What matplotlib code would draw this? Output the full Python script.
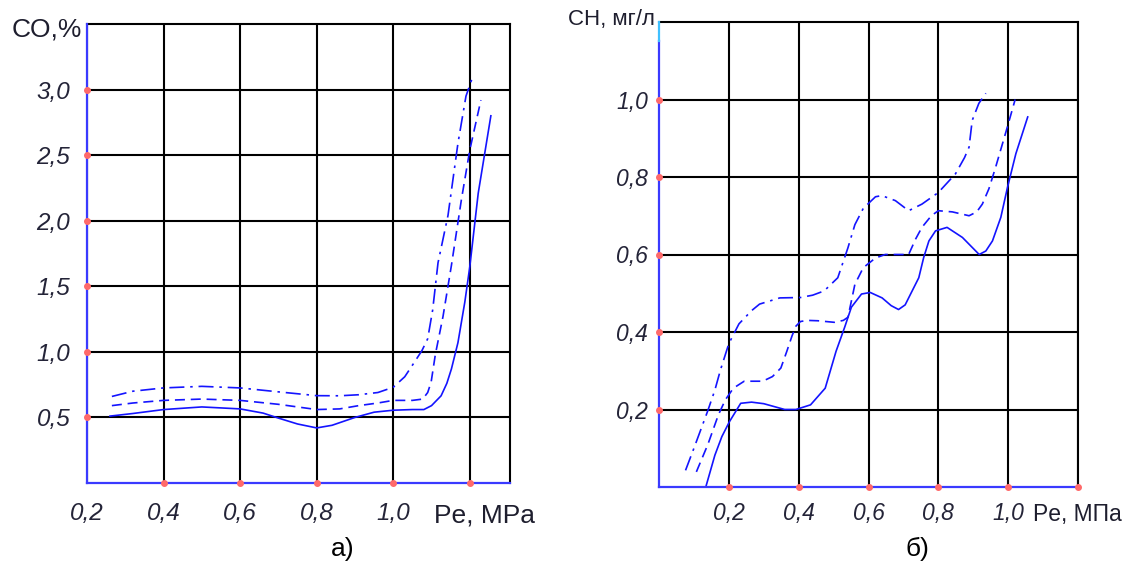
import matplotlib
matplotlib.use("Agg")
import matplotlib.pyplot as plt

plt.rcParams['font.family'] = ['Liberation Sans', 'DejaVu Sans']

# ---------------- data: panel a) CO, % ----------------
co_xticks = [0.2, 0.4, 0.6, 0.8, 1.0, 1.2]
co_xticklabels = ['0,2', '0,4', '0,6', '0,8', '1,0', '']
co_yticks = [0.5, 1.0, 1.5, 2.0, 2.5, 3.0]
co_yticklabels = ['0,5', '1,0', '1,5', '2,0', '2,5', '3,0']

co_solid_x = [0.26, 0.32, 0.40, 0.50, 0.60, 0.66, 0.70, 0.75, 0.80, 0.84, 0.90, 0.95,
              1.00, 1.05, 1.08, 1.10, 1.125, 1.14, 1.152, 1.169, 1.187, 1.20, 1.222, 1.255]
co_solid_y = [0.51, 0.53, 0.56, 0.58, 0.565, 0.533, 0.495, 0.45, 0.42, 0.44, 0.50, 0.54,
              0.555, 0.56, 0.56, 0.59, 0.665, 0.76, 0.87, 1.07, 1.38, 1.65, 2.21, 2.80]

co_dash_x = [0.265, 0.32, 0.40, 0.50, 0.60, 0.70, 0.80, 0.86, 0.91, 0.96, 1.00, 1.05,
             1.077, 1.09, 1.099, 1.11, 1.13, 1.152, 1.178, 1.20, 1.229]
co_dash_y = [0.59, 0.61, 0.63, 0.64, 0.63, 0.60, 0.56, 0.565, 0.59, 0.61, 0.63, 0.63,
             0.64, 0.69, 0.77, 0.98, 1.27, 1.66, 2.16, 2.54, 2.92]

co_dashdot_x = [0.265, 0.32, 0.40, 0.50, 0.60, 0.70, 0.80, 0.86, 0.91, 0.96, 1.00, 1.03,
                1.055, 1.075, 1.09, 1.103, 1.117, 1.143, 1.169, 1.19, 1.209]
co_dashdot_y = [0.66, 0.70, 0.725, 0.737, 0.725, 0.695, 0.666, 0.665, 0.673, 0.69, 0.73, 0.81,
                0.92, 1.01, 1.10, 1.32, 1.68, 2.04, 2.59, 2.95, 3.11]

# ---------------- data: panel б) CH, мг/л ----------------
ch_xticks = [0.2, 0.4, 0.6, 0.8, 1.0, 1.2]
ch_xticklabels = ['0,2', '0,4', '0,6', '0,8', '1,0', '']
ch_yticks = [0.2, 0.4, 0.6, 0.8, 1.0]
ch_yticklabels = ['0,2', '0,4', '0,6', '0,8', '1,0']

ch_solid_x = [0.134, 0.16, 0.18, 0.202, 0.234, 0.265, 0.30, 0.328, 0.36, 0.392, 0.434, 0.476,
              0.507, 0.532, 0.551, 0.58, 0.605, 0.639, 0.665, 0.686, 0.705, 0.72, 0.744, 0.758,
              0.773, 0.792, 0.825, 0.869, 0.917, 0.936, 0.955, 0.979, 0.998, 1.022, 1.056]
ch_solid_y = [0.0, 0.082, 0.13, 0.169, 0.216, 0.219, 0.215, 0.208, 0.20, 0.20, 0.212, 0.255,
              0.35, 0.413, 0.464, 0.498, 0.502, 0.488, 0.468, 0.458, 0.47, 0.497, 0.54, 0.592,
              0.635, 0.661, 0.67, 0.644, 0.60, 0.609, 0.635, 0.696, 0.773, 0.86, 0.955]

ch_dash_x = [0.107, 0.14, 0.17, 0.19, 0.213, 0.244, 0.297, 0.325, 0.349, 0.366, 0.381, 0.392,
             0.405, 0.424, 0.455, 0.502, 0.528, 0.541, 0.551, 0.561, 0.585, 0.62, 0.648, 0.68,
             0.715, 0.735, 0.753, 0.78, 0.80, 0.84, 0.888, 0.91, 0.926, 0.945, 0.964, 0.998, 1.02]
ch_dash_y = [0.039, 0.11, 0.186, 0.225, 0.255, 0.273, 0.273, 0.285, 0.307, 0.35, 0.39, 0.415,
             0.427, 0.43, 0.429, 0.425, 0.43, 0.438, 0.48, 0.523, 0.566, 0.591, 0.60, 0.60,
             0.60, 0.64, 0.67, 0.70, 0.713, 0.71, 0.70, 0.71, 0.73, 0.77, 0.825, 0.93, 1.0]

ch_dashdot_x = [0.076, 0.10, 0.139, 0.16, 0.176, 0.2, 0.229, 0.265, 0.288, 0.346, 0.405, 0.44,
                0.473, 0.512, 0.541, 0.561, 0.585, 0.62, 0.638, 0.677, 0.715, 0.753, 0.8, 0.849,
                0.875, 0.888, 0.897, 0.916, 0.936]
ch_dashdot_y = [0.043, 0.10, 0.195, 0.25, 0.302, 0.37, 0.421, 0.455, 0.472, 0.488, 0.489, 0.495,
                0.506, 0.54, 0.617, 0.677, 0.719, 0.749, 0.752, 0.739, 0.713, 0.73, 0.76, 0.808,
                0.85, 0.877, 0.946, 0.99, 1.016]

# ---------------- styles ----------------
CURVE = '#1414ff'
SPINE = '#3a3aff'
DOT = '#ff6a6a'
TXT = '#242438'
TICKFONT = ['Liberation Sans Narrow', 'Liberation Sans', 'DejaVu Sans']
DASH = (0, (6, 3.5))
DASHDOT = (0, (9, 3.5, 1.5, 3.5))

fig = plt.figure(figsize=(11.34, 5.67), dpi=100)
ax1 = fig.add_axes([87 / 1134, 1 - 483 / 567, (510 - 87) / 1134, (483 - 24) / 567])
ax2 = fig.add_axes([659 / 1134, 1 - 487 / 567, (1078 - 659) / 1134, (487 - 22) / 567])


def style_axes(ax, xlim, ylim, xticks, xlabels, yticks, ylabels, fs, xpad, ypad):
    ax.set_xlim(*xlim)
    ax.set_ylim(*ylim)
    ax.set_xticks(xticks)
    ax.set_xticklabels(xlabels, fontsize=fs, style='italic', color=TXT, family=TICKFONT)
    ax.set_yticks(yticks)
    ax.set_yticklabels(ylabels, fontsize=fs, style='italic', color=TXT, family=TICKFONT)
    ax.tick_params(axis='x', length=0, pad=xpad)
    ax.tick_params(axis='y', length=0, pad=ypad)
    ax.grid(True, color='black', linewidth=1.5)
    ax.set_axisbelow(True)
    for s in ('top', 'right'):
        ax.spines[s].set_color('black')
        ax.spines[s].set_linewidth(1.5)
    ax.spines['bottom'].set_color(SPINE)
    ax.spines['bottom'].set_linewidth(1.6)
    ax.spines['left'].set_color(SPINE)
    ax.spines['left'].set_linewidth(1.6)
    ax.spines['bottom'].set_zorder(4)
    ax.spines['left'].set_zorder(4)


style_axes(ax1, (0.2, 1.305), (0, 3.5), co_xticks, co_xticklabels,
           co_yticks, co_yticklabels, 17.5, 14, 12)
style_axes(ax2, (0, 1.2), (0, 1.2), ch_xticks, ch_xticklabels,
           ch_yticks, ch_yticklabels, 16.5, 11, 8)

# right panel: top part of left spine is light blue
ax2.spines['left'].set_visible(False)
ax2.plot([0, 0], [0, 1.15], color=SPINE, lw=1.6, clip_on=False, zorder=4)
ax2.plot([0, 0], [1.15, 1.2], color='#40c0ff', lw=1.6, clip_on=False, zorder=4)

# curves
ax1.plot(co_solid_x, co_solid_y, color=CURVE, lw=1.2, solid_joinstyle='round', zorder=3)
ax1.plot(co_dash_x, co_dash_y, color=CURVE, lw=1.2, linestyle=DASH, zorder=3)
ax1.plot(co_dashdot_x, co_dashdot_y, color=CURVE, lw=1.2, linestyle=DASHDOT, zorder=3)

ax2.plot(ch_solid_x, ch_solid_y, color=CURVE, lw=1.2, solid_joinstyle='round', zorder=3)
ax2.plot(ch_dash_x, ch_dash_y, color=CURVE, lw=1.2, linestyle=DASH, zorder=3)
ax2.plot(ch_dashdot_x, ch_dashdot_y, color=CURVE, lw=1.2, linestyle=DASHDOT, zorder=3)

# red tick dots
ax1.plot([0.2] * len(co_yticks), co_yticks, 'o', ms=4, color=DOT, clip_on=False, zorder=5)
ax1.plot(co_xticks[1:], [0] * len(co_xticks[1:]), 'o', ms=4, color=DOT, clip_on=False, zorder=5)
ax2.plot([0] * len(ch_yticks), ch_yticks, 'o', ms=4, color=DOT, clip_on=False, zorder=5)
ax2.plot(ch_xticks, [0] * len(ch_xticks), 'o', ms=4, color=DOT, clip_on=False, zorder=5)

# axis titles / captions
fig.text(82 / 1134, 1 - 30 / 567, 'CO,%', fontsize=19, color='#1e1e2e', ha='right', va='center')
fig.text(655 / 1134, 1 - 20 / 567, 'CH, мг/л', fontsize=16, color='#1e1e2e', ha='right', va='center')
fig.text(434 / 1134, 1 - 515 / 567, 'Pe, MPa', fontsize=19, color='#1e1e2e', ha='left', va='center')
fig.text(1033 / 1134, 1 - 515 / 567, 'Pe, МПа', fontsize=16.5, color='#1e1e2e', ha='left', va='center')
fig.text(343 / 1134, 1 - 549 / 567, 'a)', fontsize=19, color='black', ha='center', va='center')
fig.text(917 / 1134, 1 - 549 / 567, 'б)', fontsize=19, color='black', ha='center', va='center')

fig.savefig('out.png', dpi=100, facecolor='white')
